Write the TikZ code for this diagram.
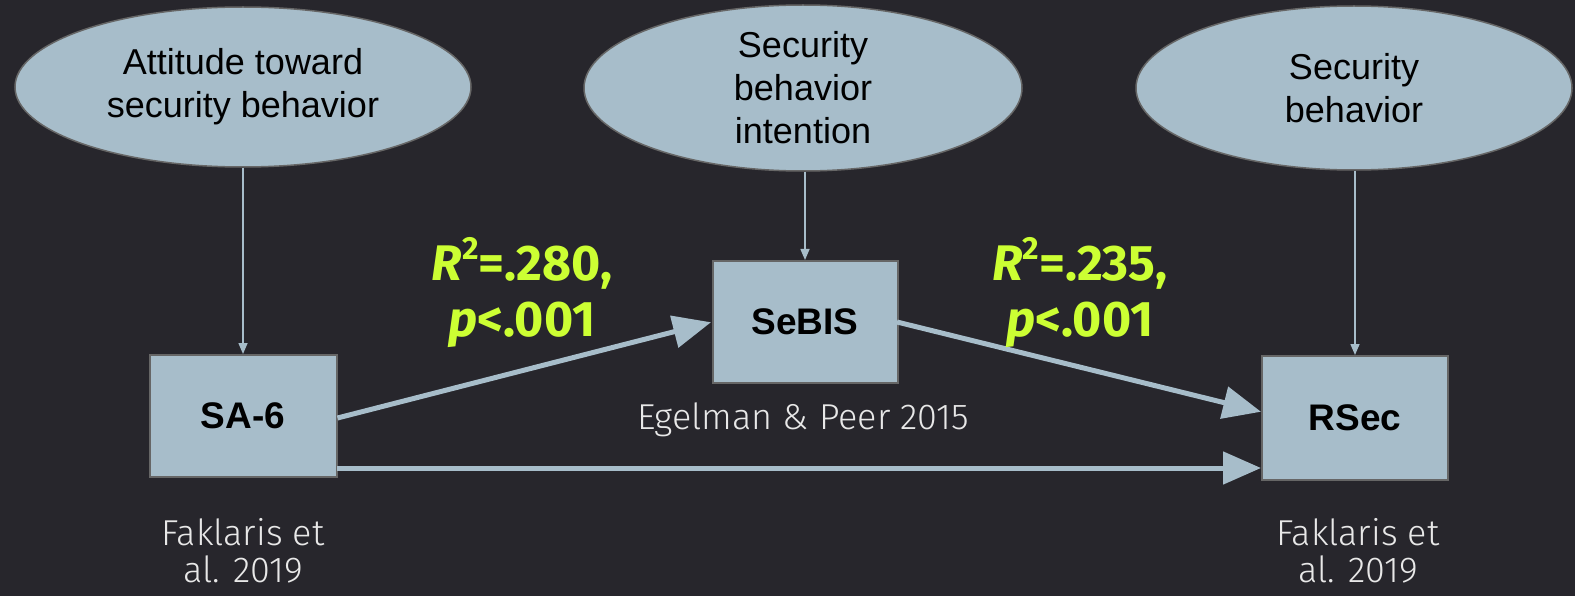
\documentclass[tikz,border=0pt]{standalone}
\usepackage{fontspec}
\setmainfont{Liberation Sans}
\newfontfamily\thinf{Fira Sans Light}
\newfontfamily\grf{Fira Sans}
\usetikzlibrary{shapes.geometric,arrows.meta}
\definecolor{bg}{HTML}{27262C}
\definecolor{boxfill}{HTML}{A7BDCA}
\definecolor{boxline}{HTML}{666666}
\definecolor{lime}{HTML}{CCFF33}
\definecolor{lighttext}{HTML}{E8E8E8}
\newcommand{\sqr}{\raisebox{0.42em}{\fontsize{32}{32}\selectfont 2}}
\tikzset{
  latent/.style={ellipse, draw=boxline, line width=1.5pt, fill=boxfill, inner sep=0pt, align=center, font=\fontsize{36}{43}\selectfont},
  measure/.style={rectangle, draw=boxline, line width=2pt, fill=boxfill, inner sep=0pt, font=\fontsize{37}{40}\selectfont\bfseries},
  thin/.style={draw=boxfill, line width=1.5pt, -{Triangle[length=11pt,width=9pt]}},
  thick/.style={draw=boxfill, line width=5pt, -{Triangle[length=38pt,width=32pt]}, shorten >=1pt},
  cite/.style={text=lighttext, font=\thinf\fontsize{36}{37}\selectfont, align=center},
  stat/.style={text=lime, font=\grf\bfseries\fontsize{50}{56}\selectfont, align=center}
}
\begin{document}
\begin{tikzpicture}[x=1pt,y=-1pt]
\fill[bg] (0,0) rectangle (1575,596);
\useasboundingbox (0,0) rectangle (1575,596);
\node[latent, minimum width=456pt, minimum height=160pt] (att) at (243,87) {Attitude toward\\security behavior};
\node[latent, minimum width=438pt, minimum height=166pt] (int) at (803,88) {Security\\behavior\\intention};
\node[latent, minimum width=436pt, minimum height=164pt] (beh) at (1354,88) {Security\\behavior};
\node[measure, minimum width=187pt, minimum height=122pt] (sa6) at (243,416) {SA-6};
\node[measure, minimum width=185pt, minimum height=122pt] (sebis) at (805,322) {SeBIS};
\node[measure, minimum width=186pt, minimum height=124pt] (rsec) at (1355,418) {RSec};
\draw[thin] (att.south) -- (sa6.north);
\draw[thin] (int.south -| sebis.north) -- (sebis.north);
\draw[thin] (beh.south -| rsec.north) -- (rsec.north);
\coordinate (a1) at (337,418);
\coordinate (b1) at (712,322);
\draw[thick] (sa6.east |- a1) -- (b1);
\coordinate (a2) at (897,322);
\coordinate (b2) at (1262,412);
\draw[thick] (a2) -- (b2);
\coordinate (a3) at (337,468);
\coordinate (b3) at (1262,468);
\draw[thick] (a3) -- (b3);
\node[stat] (s1) at (522,293) {\textit{R}\sqr=.280,\\\textit{p}<.001};
\node[stat] (s2) at (1080,293) {\textit{R}\sqr=.235,\\\textit{p}<.001};
\node[cite] (c1) at (803,420) {Egelman \& Peer 2015};
\node[cite] (c2) at (243,551) {Faklaris et\\al. 2019};
\node[cite] (c3) at (1358,551) {Faklaris et\\al. 2019};
\end{tikzpicture}
\end{document}
